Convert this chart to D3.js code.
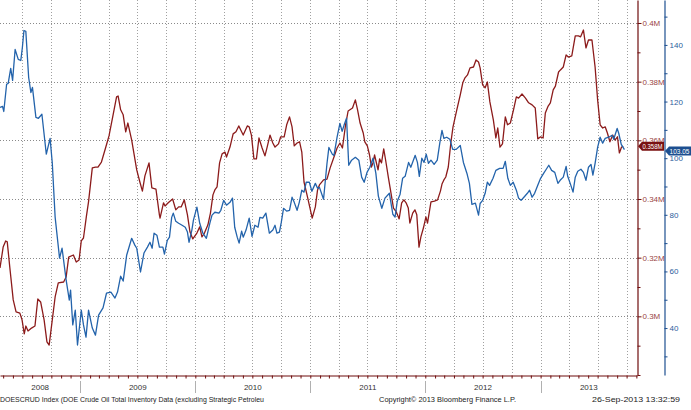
<!DOCTYPE html>
<html>
<head>
<meta charset="utf-8">
<script src="https://cdn.jsdelivr.net/npm/d3@7"></script>
<style>
  html, body { margin: 0; padding: 0; background: #fff; }
  svg { display: block; font-family: "Liberation Sans", Arial, sans-serif; }
</style>
</head>
<body>
<div id="chart"></div>
<script>
// DOE crude oil inventory (thousand kbbl, axis shows M) vs WTI price
const crudeInventory = [
  ["2008-04-21",316.5],["2008-05-01",323.6],["2008-05-09",325.7],["2008-05-14",325.4],["2008-05-22",316.8],
  ["2008-06-02",305.6],["2008-06-11",301.5],["2008-06-23",301.1],["2008-06-30",298.8],["2008-07-07",294.0],
  ["2008-07-12",296.7],["2008-07-19",295.0],["2008-07-30",296.0],["2008-08-10",296.7],["2008-08-19",305.9],
  ["2008-08-28",304.9],["2008-09-08",298.8],["2008-09-17",291.3],["2008-09-24",290.2],["2008-10-02",297.1],
  ["2008-10-13",306.6],["2008-10-23",311.4],["2008-11-09",311.7],["2008-11-17",313.4],["2008-11-25",320.2],
  ["2008-12-10",320.9],["2008-12-19",318.5],["2008-12-28",319.2],["2009-01-04",325.7],["2009-01-11",326.7],
  ["2009-01-20",333.9],["2009-01-27",339.0],["2009-02-08",350.6],["2009-02-18",350.9],["2009-02-26",350.9],
  ["2009-03-09",352.6],["2009-03-22",357.4],["2009-04-02",361.5],["2009-04-15",368.7],["2009-04-26",374.8],
  ["2009-05-01",375.1],["2009-05-09",370.4],["2009-05-17",368.7],["2009-05-25",362.9],["2009-06-01",365.9],
  ["2009-06-13",360.1],["2009-06-29",349.9],["2009-07-09",345.8],["2009-07-17",342.7],["2009-07-25",347.9],
  ["2009-08-07",352.3],["2009-08-16",343.8],["2009-08-29",343.4],["2009-09-09",334.6],["2009-09-11",333.5],
  ["2009-09-22",338.7],["2009-09-27",337.6],["2009-10-07",338.7],["2009-10-21",340.0],["2009-10-31",336.3],
  ["2009-11-09",337.3],["2009-11-17",337.3],["2009-11-27",339.7],["2009-12-07",334.6],["2009-12-15",328.8],
  ["2009-12-24",326.4],["2010-01-06",328.4],["2010-01-15",330.5],["2010-01-22",327.1],["2010-01-30",328.4],
  ["2010-02-10",331.2],["2010-02-18",335.2],["2010-02-26",341.4],["2010-03-04",343.1],["2010-03-11",344.1],
  ["2010-03-19",352.3],["2010-03-27",355.4],["2010-04-05",356.0],["2010-04-10",354.3],["2010-04-21",357.7],
  ["2010-05-01",362.2],["2010-05-10",362.9],["2010-05-19",364.9],["2010-06-02",361.8],["2010-06-15",364.9],
  ["2010-06-21",364.6],["2010-06-28",361.8],["2010-07-06",353.7],["2010-07-14",353.7],["2010-07-22",360.8],
  ["2010-08-01",357.4],["2010-08-10",354.7],["2010-08-17",357.7],["2010-08-26",361.8],["2010-09-04",359.1],
  ["2010-09-11",357.7],["2010-09-22",358.8],["2010-09-29",361.2],["2010-10-10",361.2],["2010-10-18",365.3],
  ["2010-10-27",368.0],["2010-11-04",364.6],["2010-11-11",358.1],["2010-11-20",359.1],["2010-11-28",359.5],
  ["2010-12-05",356.0],["2010-12-12",345.8],["2010-12-23",340.7],["2010-12-31",336.9],["2011-01-07",333.5],
  ["2011-01-17",337.3],["2011-01-24",343.1],["2011-01-30",344.8],["2011-02-12",346.5],["2011-02-23",346.8],
  ["2011-03-05",350.6],["2011-03-16",354.0],["2011-03-27",357.4],["2011-04-05",359.1],["2011-04-13",357.4],
  ["2011-04-23",365.3],["2011-05-01",370.0],["2011-05-15",371.0],["2011-05-24",373.8],["2011-05-31",370.4],
  ["2011-06-08",365.9],["2011-06-18",362.5],["2011-06-23",359.5],["2011-07-01",358.1],["2011-07-08",355.0],
  ["2011-07-14",350.9],["2011-07-19",352.3],["2011-07-24",355.0],["2011-08-04",349.9],["2011-08-09",353.7],
  ["2011-08-15",352.3],["2011-08-22",357.1],["2011-08-28",353.3],["2011-09-06",347.2],["2011-09-14",342.1],
  ["2011-09-22",336.9],["2011-10-01",335.6],["2011-10-10",333.2],["2011-10-18",338.7],["2011-10-25",339.7],
  ["2011-11-01",338.7],["2011-11-08",336.9],["2011-11-13",331.8],["2011-11-22",335.2],["2011-11-29",336.3],
  ["2011-12-05",334.6],["2011-12-12",323.6],["2011-12-18",327.1],["2011-12-26",330.1],["2012-01-03",333.9],
  ["2012-01-08",331.8],["2012-01-19",339.0],["2012-01-30",339.3],["2012-02-09",339.7],["2012-02-18",342.7],
  ["2012-02-23",345.1],["2012-02-29",346.5],["2012-03-06",347.5],["2012-03-14",350.9],["2012-03-22",359.1],
  ["2012-03-29",364.6],["2012-04-10",370.4],["2012-04-21",375.5],["2012-04-29",379.6],["2012-05-06",381.3],
  ["2012-05-14",382.3],["2012-05-22",384.7],["2012-06-02",385.0],["2012-06-10",387.4],["2012-06-18",386.7],
  ["2012-06-23",384.7],["2012-07-01",378.9],["2012-07-09",377.9],["2012-07-16",379.9],["2012-07-24",373.1],
  ["2012-08-04",367.0],["2012-08-12",360.8],["2012-08-18",364.2],["2012-08-25",357.7],["2012-09-02",358.8],
  ["2012-09-11",368.0],["2012-09-18",365.3],["2012-09-27",365.9],["2012-10-07",370.4],["2012-10-16",374.8],
  ["2012-10-23",374.4],["2012-11-03",375.8],["2012-11-14",374.4],["2012-11-24",372.8],["2012-12-05",372.1],
  ["2012-12-15",371.0],["2012-12-23",360.5],["2013-01-01",361.2],["2013-01-09",360.8],["2013-01-16",369.3],
  ["2013-01-25",371.7],["2013-02-01",372.8],["2013-02-10",377.2],["2013-02-17",378.5],["2013-02-27",383.3],
  ["2013-03-05",384.0],["2013-03-14",385.0],["2013-03-23",389.1],["2013-03-30",388.4],["2013-04-10",388.8],
  ["2013-04-21",395.6],["2013-05-01",395.6],["2013-05-08",395.3],["2013-05-17",397.6],["2013-05-25",391.5],
  ["2013-06-02",394.2],["2013-06-13",394.2],["2013-06-23",385.0],["2013-07-01",373.8],["2013-07-09",365.3],
  ["2013-07-17",364.2],["2013-07-25",364.6],["2013-08-01",362.5],["2013-08-09",359.5],["2013-08-18",361.8],
  ["2013-08-25",360.1],["2013-09-02",361.2],["2013-09-08",355.7],["2013-09-15",357.7],["2013-09-20",358.0]
];

const oilPrice = [
  ["2008-04-21",117.9],["2008-04-29",118.3],["2008-05-03",116.5],["2008-05-12",126.1],["2008-05-17",126.4],
  ["2008-05-25",131.7],["2008-05-31",127.5],["2008-06-08",138.4],["2008-06-18",134.9],["2008-06-26",134.5],
  ["2008-07-01",139.1],["2008-07-06",145.1],["2008-07-12",144.8],["2008-07-21",128.5],["2008-07-28",123.2],
  ["2008-08-02",125.0],["2008-08-13",114.4],["2008-08-21",114.1],["2008-09-01",115.5],["2008-09-15",101.4],
  ["2008-09-27",107.0],["2008-10-04",98.2],["2008-10-13",79.2],["2008-10-27",64.7],["2008-11-04",68.2],
  ["2008-11-17",56.9],["2008-11-27",49.9],["2008-12-01",53.4],["2008-12-08",41.1],["2008-12-16",46.3],
  ["2008-12-23",34.0],["2009-01-04",46.3],["2009-01-11",41.1],["2009-01-19",36.8],["2009-01-27",46.3],
  ["2009-02-08",40.0],["2009-02-18",37.5],["2009-02-28",44.6],["2009-03-14",47.1],["2009-03-25",52.3],
  ["2009-04-08",52.7],["2009-04-21",50.6],["2009-04-29",52.7],["2009-05-09",58.3],["2009-05-17",56.6],
  ["2009-05-28",65.7],["2009-06-13",71.7],["2009-06-23",69.3],["2009-06-29",68.2],["2009-07-11",59.8],
  ["2009-07-22",66.5],["2009-08-02",68.6],["2009-08-10",70.3],["2009-08-17",68.2],["2009-08-23",73.5],
  ["2009-09-01",72.8],["2009-09-09",68.6],["2009-09-20",68.6],["2009-09-25",66.1],["2009-10-04",71.0],
  ["2009-10-11",72.1],["2009-10-18",79.1],["2009-10-23",80.6],["2009-10-31",77.7],["2009-11-09",77.0],
  ["2009-11-20",76.3],["2009-11-30",75.6],["2009-12-07",73.9],["2009-12-12",70.3],["2009-12-21",74.6],
  ["2009-12-26",78.1],["2010-01-06",82.7],["2010-01-15",77.0],["2010-01-25",73.5],["2010-02-05",71.7],
  ["2010-02-16",77.0],["2010-02-23",79.9],["2010-03-04",80.9],["2010-03-17",80.6],["2010-03-23",81.6],
  ["2010-04-01",85.1],["2010-04-10",83.4],["2010-04-21",84.4],["2010-04-29",85.9],["2010-05-06",75.6],
  ["2010-05-14",72.1],["2010-05-20",70.0],["2010-05-28",74.2],["2010-06-02",72.1],["2010-06-11",74.6],
  ["2010-06-21",78.8],["2010-06-30",72.4],["2010-07-09",76.3],["2010-07-19",75.6],["2010-07-25",79.1],
  ["2010-08-03",78.8],["2010-08-13",80.6],["2010-08-24",73.5],["2010-09-04",74.6],["2010-09-11",76.3],
  ["2010-09-17",73.5],["2010-09-25",73.9],["2010-10-01",77.4],["2010-10-08",82.3],["2010-10-18",81.3],
  ["2010-10-27",81.6],["2010-11-04",86.2],["2010-11-11",84.4],["2010-11-20",81.6],["2010-11-27",84.4],
  ["2010-12-05",88.7],["2010-12-12",88.0],["2010-12-19",91.5],["2010-12-29",91.5],["2011-01-06",88.3],
  ["2011-01-17",91.1],["2011-01-24",89.4],["2011-01-30",89.7],["2011-02-12",85.5],["2011-02-23",98.2],
  ["2011-03-01",103.8],["2011-03-12",101.4],["2011-03-17",101.0],["2011-03-27",107.4],["2011-04-05",112.3],
  ["2011-04-12",109.5],["2011-04-18",111.6],["2011-04-26",114.1],["2011-05-03",97.5],["2011-05-12",99.3],
  ["2011-05-24",100.3],["2011-06-04",99.3],["2011-06-13",93.3],["2011-06-21",91.5],["2011-06-30",95.0],
  ["2011-07-09",96.8],["2011-07-19",100.0],["2011-07-28",94.7],["2011-08-05",86.6],["2011-08-16",82.3],
  ["2011-08-26",85.9],["2011-09-09",87.6],["2011-09-20",80.2],["2011-09-27",79.2],["2011-10-04",84.8],
  ["2011-10-13",87.3],["2011-10-21",92.9],["2011-10-29",93.6],["2011-11-09",98.5],["2011-11-16",96.8],
  ["2011-11-30",101.0],["2011-12-07",98.5],["2011-12-13",93.6],["2011-12-21",100.0],["2011-12-28",98.5],
  ["2012-01-04",101.4],["2012-01-11",98.2],["2012-01-19",99.3],["2012-01-29",97.8],["2012-02-08",99.3],
  ["2012-02-16",105.3],["2012-02-23",109.8],["2012-02-29",107.0],["2012-03-09",107.4],["2012-03-19",106.7],
  ["2012-03-28",103.1],["2012-04-08",103.1],["2012-04-21",104.5],["2012-05-01",98.5],["2012-05-12",94.7],
  ["2012-05-20",91.1],["2012-05-28",83.7],["2012-06-08",84.1],["2012-06-18",79.9],["2012-06-23",84.0],
  ["2012-07-01",85.1],["2012-07-09",87.6],["2012-07-16",91.5],["2012-07-23",90.4],["2012-08-03",92.9],
  ["2012-08-12",95.7],["2012-08-24",96.4],["2012-09-04",96.4],["2012-09-11",98.9],["2012-09-19",92.9],
  ["2012-09-27",90.4],["2012-10-06",91.5],["2012-10-16",88.7],["2012-10-23",85.9],["2012-10-31",85.1],
  ["2012-11-09",86.2],["2012-11-20",87.6],["2012-11-27",88.7],["2012-12-05",86.2],["2012-12-13",87.6],
  ["2012-12-23",90.4],["2013-01-01",92.9],["2013-01-11",94.7],["2013-01-19",96.1],["2013-01-27",97.5],
  ["2013-02-05",95.7],["2013-02-15",95.0],["2013-02-25",91.1],["2013-03-04",92.2],["2013-03-14",93.3],
  ["2013-03-23",97.1],["2013-03-28",93.6],["2013-04-05",91.1],["2013-04-14",88.0],["2013-04-21",93.3],
  ["2013-04-29",95.4],["2013-05-09",96.1],["2013-05-17",95.0],["2013-05-25",92.2],["2013-06-02",96.8],
  ["2013-06-10",97.8],["2013-06-16",94.0],["2013-06-23",98.2],["2013-07-01",103.8],["2013-07-09",107.4],
  ["2013-07-17",105.3],["2013-07-25",107.0],["2013-08-05",107.4],["2013-08-16",108.1],["2013-08-21",106.7],
  ["2013-09-01",110.5],["2013-09-06",108.8],["2013-09-14",104.9],["2013-09-20",103.8],["2013-09-24",103.05]
];

const years = ["2008", "2009", "2010", "2011", "2012", "2013"];
const inventoryTicks = [280, 290, 300, 310, 320, 330, 340, 350, 360, 370, 380, 390, 400];
const inventoryLabels = [300, 320, 340, 360, 380, 400];
const priceTicks = [30, 40, 50, 60, 70, 80, 90, 100, 110, 120, 130, 140, 150];
const priceLabels = [40, 60, 80, 100, 120, 140];
const footerLeft = "DOESCRUD Index (DOE Crude Oil Total Inventory Data (excluding Strategic Petroleu";
const footerMid = "Copyright\u00a9 2013 Bloomberg Finance L.P.";
const footerRight = "26-Sep-2013 13:32:59";

const W = 691, H = 410;
const plotW = 637, plotH = 375;
const RED = '#8c1b1b', BLUE = '#2363ab';
const RED_AXIS = '#6e0d0d', BLUE_AXIS = '#1d4f90';

const parse = d3.timeParse('%Y-%m-%d');
const inv = crudeInventory.map(([d, v]) => ({ date: parse(d), value: v }));
const px = oilPrice.map(([d, v]) => ({ date: parse(d), value: v }));

const x = d3.scaleTime().domain([parse('2008-04-21'), parse('2013-11-03')]).range([0, plotW]);
const yInv = d3.scaleLinear().domain([280, 407.84]).range([plotH, 0]);
const yPx = d3.scaleLinear().domain([23.42, 155.87]).range([plotH, 0]);

const svg = d3.select('#chart').append('svg').attr('width', W).attr('height', H);

// grid
const quarters = d3.timeMonth.every(3).range(x.domain()[0], x.domain()[1]);
svg.append('g')
  .selectAll('line')
  .data(quarters)
  .join('line')
  .attr('x1', (d) => Math.round(x(d)) + 0.5)
  .attr('x2', (d) => Math.round(x(d)) + 0.5)
  .attr('y1', 0)
  .attr('y2', plotH)
  .attr('stroke', '#a0a0a0')
  .attr('stroke-dasharray', '1,2');

svg.append('g')
  .selectAll('line')
  .data(inventoryLabels)
  .join('line')
  .attr('x1', 0)
  .attr('x2', plotW)
  .attr('y1', (d) => Math.round(yInv(d)) + 0.5)
  .attr('y2', (d) => Math.round(yInv(d)) + 0.5)
  .attr('stroke', '#8a8a8a')
  .attr('stroke-dasharray', '1,2');

// lines
const invLine = d3.line().x((d) => x(d.date)).y((d) => yInv(d.value));
const pxLine = d3.line().x((d) => x(d.date)).y((d) => yPx(d.value));

svg.append('path').datum(inv).attr('d', invLine).attr('fill', 'none')
  .attr('stroke', RED).attr('stroke-width', 1.3).attr('stroke-linejoin', 'round');
svg.append('path').datum(px).attr('d', pxLine).attr('fill', 'none')
  .attr('stroke', BLUE).attr('stroke-width', 1.3).attr('stroke-linejoin', 'round');

// bottom axis (monthly ticks)
const xAxis = svg.append('g')
  .attr('transform', `translate(0,${plotH + 0.5})`)
  .call(d3.axisBottom(x).ticks(d3.timeMonth.every(1)).tickSize(3).tickFormat('').tickSizeOuter(0));
xAxis.select('.domain').attr('stroke', RED_AXIS).attr('stroke-width', 1.2);
xAxis.selectAll('.tick line').attr('stroke', RED_AXIS);

// year labels and separators
const y0 = x.domain()[0], y1 = x.domain()[1];
svg.append('g')
  .selectAll('line')
  .data(years.slice(1))
  .join('line')
  .attr('x1', (d) => Math.round(x(parse(d + '-01-01'))) + 0.5)
  .attr('x2', (d) => Math.round(x(parse(d + '-01-01'))) + 0.5)
  .attr('y1', 381)
  .attr('y2', 393)
  .attr('stroke', '#b0b0b0');

svg.append('g')
  .selectAll('text')
  .data(years)
  .join('text')
  .attr('x', (d) => {
    const a = Math.max(+parse(d + '-01-01'), +y0);
    const b = Math.min(+parse((+d + 1) + '-01-01'), +y1);
    return (x(new Date(a)) + x(new Date(b))) / 2;
  })
  .attr('y', 390)
  .attr('text-anchor', 'middle')
  .attr('font-size', 8)
  .attr('fill', '#333')
  .text((d) => d);

// inventory axis (inner right)
const fmtM = (d) => `${d / 1000}M`;
const invAxis = svg.append('g')
  .attr('transform', `translate(${plotW + 0.5},0)`)
  .call(d3.axisRight(yInv).tickValues(inventoryTicks).tickSize(3).tickSizeOuter(0)
    .tickFormat((d) => (inventoryLabels.includes(d) ? fmtM(d) : '')));
invAxis.select('.domain').attr('stroke', RED_AXIS).attr('stroke-width', 1.2);
invAxis.selectAll('.tick line').attr('stroke', RED_AXIS)
  .attr('x2', (d) => (inventoryLabels.includes(d) ? 4 : 3));
invAxis.selectAll('.tick text').attr('x', 5).attr('fill', '#9a4545')
  .attr('font-size', 8).attr('font-family', '"Liberation Sans", Arial, sans-serif');

// price axis (outer right)
const pxAxis = svg.append('g')
  .attr('transform', `translate(${664.5},0)`)
  .call(d3.axisRight(yPx).tickValues(priceTicks).tickSize(3).tickSizeOuter(0)
    .tickFormat((d) => (priceLabels.includes(d) ? d : '')));
pxAxis.select('.domain').attr('stroke', BLUE_AXIS).attr('stroke-width', 1.2);
pxAxis.selectAll('.tick line').attr('stroke', BLUE_AXIS);
pxAxis.selectAll('.tick text').attr('x', 5).attr('fill', '#2d5d9c')
  .attr('font-size', 8).attr('font-family', '"Liberation Sans", Arial, sans-serif');

// last value tags
function tag(x0, w, yc, fill, label) {
  const h = 9;
  const g = svg.append('g');
  g.append('path')
    .attr('d', `M${x0},${yc} L${x0 + 4},${yc - h / 2} L${x0 + w},${yc - h / 2} L${x0 + w},${yc + h / 2} L${x0 + 4},${yc + h / 2} Z`)
    .attr('fill', fill);
  g.append('text')
    .attr('x', x0 + 4.5)
    .attr('y', yc + 3)
    .attr('font-size', 7.5)
    .attr('fill', '#fff')
    .attr('textLength', w - 6)
    .attr('lengthAdjust', 'spacingAndGlyphs')
    .text(label);
}
const lastInv = inv[inv.length - 1];
const lastPx = px[px.length - 1];
tag(plotW + 1, 26, yInv(lastInv.value), '#7a1010', `${d3.format('.3f')(lastInv.value / 1000)}M`);
tag(665, 26, yPx(lastPx.value) + 1.5, BLUE_AXIS, d3.format('.2f')(lastPx.value));

// footer
svg.append('text').attr('x', 0).attr('y', 402).attr('font-size', 8).attr('fill', '#222')
  .attr('textLength', 264).attr('lengthAdjust', 'spacingAndGlyphs').text(footerLeft);
svg.append('text').attr('x', 379).attr('y', 402).attr('font-size', 8).attr('fill', '#222')
  .attr('textLength', 137).attr('lengthAdjust', 'spacingAndGlyphs').text(footerMid);
svg.append('text').attr('x', 592).attr('y', 402).attr('font-size', 8).attr('fill', '#222')
  .attr('textLength', 88).attr('lengthAdjust', 'spacingAndGlyphs').text(footerRight);
</script>
</body>
</html>
